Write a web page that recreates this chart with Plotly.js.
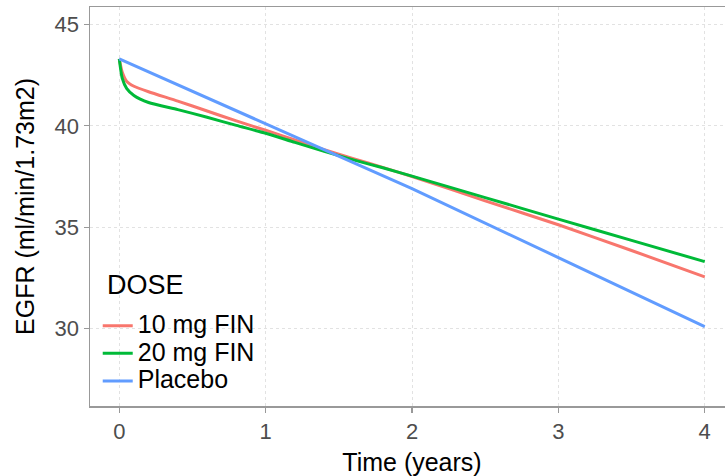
<!DOCTYPE html>
<html>
<head>
<meta charset="utf-8">
<script src="https://cdn.plot.ly/plotly-3.0.1.min.js"></script>
<style>
  html, body { margin: 0; padding: 0; overflow: hidden; background: #fff; }
  #chart { width: 734px; height: 476px; }
</style>
</head>
<body>
<div id="chart"></div>
<script>
// Time grid (years) for the fitted curves
const time = [0, 0.02, 0.05, 0.1, 0.2, 0.4, 0.6, 0.8, 1, 1.2, 1.4, 1.6, 1.8, 2, 2.5, 3, 3.5, 4];
// Series values (EGFR, ml/min/1.73m2)
const dose10 = [43.3, 42.65, 42.2, 41.95, 41.68, 41.22, 40.73, 40.24, 39.78, 39.3, 38.82, 38.38, 37.95, 37.5, 36.3, 35.12, 33.85, 32.55];
const dose20 = [43.3, 42.35, 41.85, 41.5, 41.15, 40.8, 40.42, 40.02, 39.63, 39.18, 38.74, 38.32, 37.93, 37.52, 36.46, 35.4, 34.35, 33.3];
const placeboTime = [0, 1, 2, 3, 4];
const placebo = [43.3, 40.1, 36.9, 33.5, 30.1];
// Labels
const seriesNames = ["10 mg FIN", "20 mg FIN", "Placebo"];
const legendTitle = "DOSE";
const xTicks = [0, 1, 2, 3, 4];
const yTicks = [30, 35, 40, 45];

const colors = ["#F8766D", "#00BA38", "#619CFF"];
const FONT = '"Liberation Sans", Arial, sans-serif';
const big = s => '<span style="font-size:25px">' + s + '</span>';

const traces = [
  { x: time, y: dose10, name: big(seriesNames[0]), mode: "lines", line: { color: colors[0], width: 3, shape: "spline", smoothing: 0.6 } },
  { x: time, y: dose20, name: big(seriesNames[1]), mode: "lines", line: { color: colors[1], width: 3, shape: "spline", smoothing: 0.6 } },
  { x: placeboTime, y: placebo, name: big(seriesNames[2]), mode: "lines", line: { color: colors[2], width: 3 } }
];

const layout = {
  width: 734, height: 476,
  margin: { l: 90, r: 0, t: 7, b: 70 },
  paper_bgcolor: "#fff", plot_bgcolor: "#fff",
  font: { family: FONT, color: "#000" },
  showlegend: true,
  legend: {
    x: 0.012, xanchor: "left", y: 0.013, yanchor: "bottom",
    bgcolor: "rgba(255,255,255,0)",
    font: { size: 19, color: "#000", family: FONT },
    itemwidth: 30
  },
  annotations: [{
    text: legendTitle, showarrow: false,
    xref: "paper", yref: "paper", x: 0.0233, xanchor: "left", y: 0.303, yanchor: "middle",
    font: { size: 27, color: "#000", family: FONT }
  }],
  xaxis: {
    range: [-0.2, 4.2],
    tickvals: xTicks, ticktext: xTicks.map(String),
    ticks: "outside", ticklen: 5, tickwidth: 1.2, tickcolor: "#999",
    tickfont: { size: 22, color: "#4d4d4d" },
    showgrid: true, gridcolor: "#e2e2e2", gridwidth: 1, griddash: "dot",
    zeroline: false,
    showline: true, linecolor: "#999", linewidth: 1.5, mirror: true,
    title: { text: "Time (years)", font: { size: 25, color: "#000" }, standoff: 13 }
  },
  yaxis: {
    range: [26.18, 45.86],
    tickvals: yTicks, ticktext: yTicks.map(String),
    ticks: "outside", ticklen: 5, tickwidth: 1.2, tickcolor: "#999",
    tickfont: { size: 22, color: "#4d4d4d" },
    showgrid: true, gridcolor: "#e2e2e2", gridwidth: 1, griddash: "dot",
    zeroline: false,
    showline: true, linecolor: "#999", linewidth: 1.5, mirror: false,
    title: { text: "EGFR (ml/min/1.73m2)", font: { size: 25, color: "#000" }, standoff: 13 }
  }
};

Plotly.newPlot("chart", traces, layout, { displayModeBar: false, staticPlot: true });
</script>
</body>
</html>
